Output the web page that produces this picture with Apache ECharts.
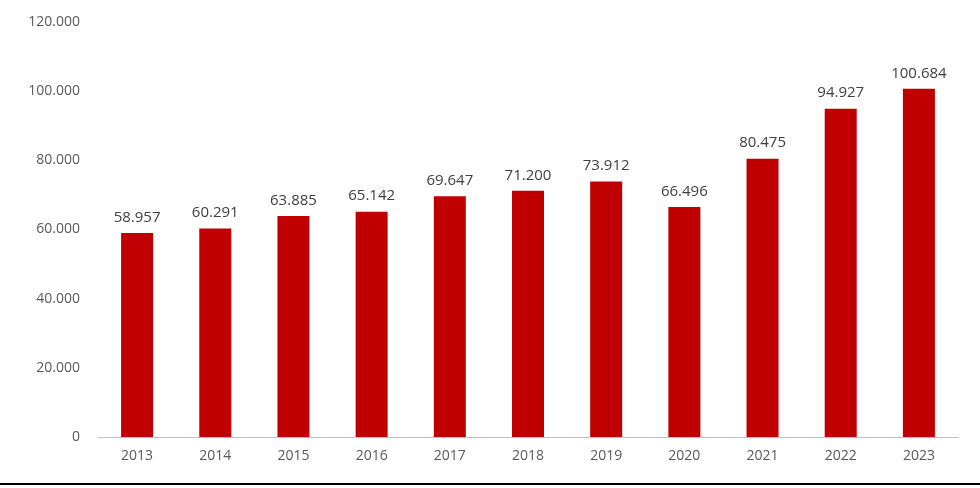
<!DOCTYPE html>
<html><head><meta charset="utf-8">
<script src="https://cdn.jsdelivr.net/npm/echarts@6/dist/echarts.min.js"></script>
<style>html,body{margin:0;padding:0;background:#fff}#c{width:980px;height:488px}</style>
</head><body><div id="c"></div>
<script>
const categories = ['2013','2014','2015','2016','2017','2018','2019','2020','2021','2022','2023'];
const values = [58957,60291,63885,65142,69647,71200,73912,66496,80475,94927,100684];
const fmt = v => v === 0 ? '0' : String(v).replace(/\B(?=(\d{3})+(?!\d))/g, '.');
const chart = echarts.init(document.getElementById('c'));
chart.setOption({
  animation: false,
  grid: {left: 98, right: 22, top: 22, bottom: 51},
  xAxis: {type: 'category', data: categories,
    axisLine: {lineStyle: {color: '#bfbfbf'}}, axisTick: {show: false},
    axisLabel: {color: '#595959', fontSize: 14, fontFamily: 'Open Sans', margin: 12}},
  yAxis: {type: 'value', min: 0, max: 120000, interval: 20000,
    splitLine: {show: false}, axisLine: {show: false}, axisTick: {show: false},
    axisLabel: {color: '#595959', fontSize: 14, fontFamily: 'Open Sans', margin: 18, formatter: fmt}},
  series: [{type: 'bar', data: values, barWidth: 32, itemStyle: {color: '#c00000'},
    label: {show: true, position: 'top', distance: 8, color: '#404040', fontSize: 15,
      fontFamily: 'Open Sans', formatter: p => fmt(p.value)}}],
  graphic: [{type: 'rect', shape: {x: 0, y: 483, width: 980, height: 2}, style: {fill: '#000'}}]
});
</script></body></html>
